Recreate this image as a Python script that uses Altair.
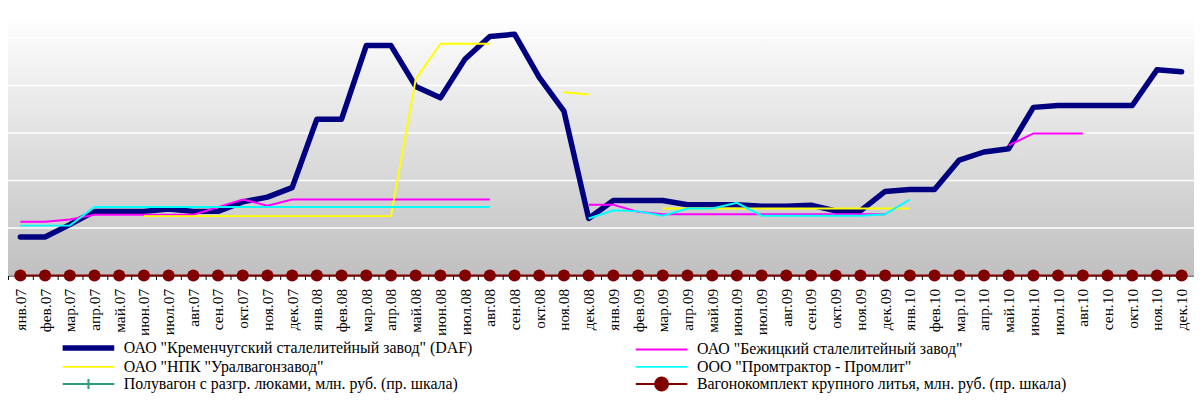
import altair as alt
import pandas as pd

# ---------------- data ----------------
mon = ["янв", "фев", "мар", "апр", "май", "июн", "июл", "авг", "сен", "окт", "ноя", "дек"]
years = ["07", "08", "09", "10"]
months = [f"{m}.{y}" for y in years for m in mon]

S0 = 'ОАО "Кременчугский сталелитейный завод" (DAF)'
S1 = 'ОАО "Бежицкий сталелитейный завод"'
S2 = 'ОАО "НПК "Уралвагонзавод"'
S3 = 'ООО "Промтрактор - Промлит"'
S4 = 'Полувагон с разгр. люками, млн. руб. (пр. шкала)'
S5 = 'Вагонокомплект крупного литья, млн. руб. (пр. шкала)'
# legend order (filled column by column)
names = [S0, S2, S4, S1, S3, S5]
colors = ["#000080", "#ffff00", "#2f9c7d", "#ff00ff", "#00ffff", "#800000"]

N = None
kremen = [8.1, 8.1, 10.7, 13.5, 13.5, 13.5, 14.0, 13.5, 13.5, 15.5, 16.5, 18.5,
          32.9, 32.9, 48.4, 48.4, 39.8, 37.4, 45.6, 50.3, 50.8, 41.7, 34.6, 12.0,
          15.8, 15.8, 15.8, 14.9, 14.9, 14.9, 14.6, 14.6, 14.8, 13.6, 13.6, 17.7,
          18.1, 18.1, 24.3, 26.0, 26.7, 35.4, 35.8, 35.8, 35.8, 35.8, 43.3, 42.9]
bezh = [11.3, 11.3, 11.8, 12.8, 12.8, 12.8, 12.8, 12.8, 14.4, 16.0, 14.7, 16.0,
        16.0, 16.0, 16.0, 16.0, 16.0, 16.0, 16.0, 16.0, N, N, N, 14.9,
        14.9, 13.4, 12.9, 12.9, 12.9, 12.9, 12.9, 12.9, 12.9, 12.9, 12.9, 12.9,
        N, N, N, N, 27.4, 29.9, 29.9, 29.9, N, N, N, N]
uvz = [N, N, N, N, N, 12.5, 12.5, 12.5, 12.5, 12.5, 12.5, 12.5,
       12.5, 12.5, 12.5, 12.5, 41.3, 48.8, 48.8, 48.8, N, N, 38.6, 38.1,
       N, N, 14.1, 14.1, 14.1, 14.1, 14.1, 14.1, 14.1, 14.1, 14.1, 14.1,
       14.1, N, N, N, N, N, N, N, N, N, N, N]
promlit = [10.5, 10.5, 10.5, 14.4, 14.4, 14.4, 14.4, 14.4, 14.4, 14.4, 14.4, 14.4,
           14.4, 14.4, 14.4, 14.4, 14.4, 14.4, 14.4, 14.4, N, N, N, 12.0,
           13.75, 13.5, 12.6, 14.1, 14.1, 15.3, 12.6, 12.6, 12.6, 12.6, 12.6, 12.9,
           16.0, N, N, N, N, N, N, N, N, N, N, N]
poluvagon = [N] * 48
vagonokomplekt = [0] * 48

series = [(S0, kremen), (S1, bezh), (S2, uvz), (S3, promlit), (S4, poluvagon), (S5, vagonokomplekt)]
grid_values = [10, 20, 30, 40, 50]

rows = []
for name, vals in series:
    seg = 0
    for i, (m, v) in enumerate(zip(months, vals)):
        if v is None:
            seg += 1
            continue
        rows.append({"month": m, "series": name, "value": v, "seg": f"{name}|{seg}", "order": i})
df = pd.DataFrame(rows)

# ---------------- chart ----------------
W, H = 1194, 263
YMAX = 55
yscale = alt.Scale(domain=[0, YMAX], nice=False, zero=True)

xenc = alt.X("month:N", sort=months, bandPosition=0.5,
             scale=alt.Scale(type="band", domain=months, paddingInner=0, paddingOuter=0),
             axis=alt.Axis(title=None, labelAngle=270, labelAlign="right", labelBaseline="middle",
                           labelFont="Liberation Serif", labelFontSize=15.5, labelColor="black",
                           labelPadding=9, tickBand="extent", tickSize=4, tickColor="black",
                           domainColor="black", grid=False, labelOverlap=False))
yenc = alt.Y("value:Q", scale=yscale, axis=None)

legend = alt.Legend(
    title=None, orient="none", legendX=73, legendY=328, columns=2, columnPadding=160,
    rowPadding=-1.8,
    symbolType={"expr": "datum.index == 5 ? 'M-6,0L6,0M-1.5,0A1.5,1.5,0,1,0,1.5,0A1.5,1.5,0,1,0,-1.5,0Z' : (datum.index == 2 ? 'M-6,0L6,0M0,-1.15L0,1.15' : 'M-6,0L6,0')"},
    symbolSize=75,
    symbolStrokeWidth={"expr": "datum.index == 0 ? 5.5 : 2"},
    symbolFillColor={"expr": "datum.index == 5 ? '#800000' : 'transparent'"},
    labelFont="Liberation Serif", labelFontSize=16, labelColor="black", labelLimit=700,
    labelOffset=27.6,
)
color = alt.Color("series:N", scale=alt.Scale(domain=names, range=colors), legend=legend)

bg = alt.Chart(pd.DataFrame({"a": [0]})).mark_rect(
    color=alt.LinearGradient(gradient="linear",
                             stops=[alt.GradientStop(color="#ffffff", offset=0),
                                    alt.GradientStop(color="#c0c0c0", offset=1)],
                             x1=0, x2=0, y1=0, y2=1)
).encode(x=alt.value(0), x2=alt.value(W), y=alt.value(0), y2=alt.value(H))

grid = alt.Chart(pd.DataFrame({"g": grid_values})).mark_rule(color="white", strokeWidth=1.3).encode(
    y=alt.Y("g:Q", scale=yscale, axis=None)
)

base = alt.Chart(df).encode(x=xenc, y=yenc, color=color, detail="seg:N", order="order:Q")

navy = base.transform_filter(alt.FieldEqualPredicate(field="series", equal=S0)).mark_line(
    strokeWidth=5.5, strokeJoin="round", strokeCap="round")
others = base.transform_filter(alt.FieldOneOfPredicate(field="series", oneOf=[S1, S2, S3, S5])).mark_line(
    strokeWidth=2)
dots = alt.Chart(df).transform_filter(alt.FieldEqualPredicate(field="series", equal=S5)).mark_circle(
    size=150, opacity=1, color="#800000").encode(x=xenc, y=yenc)

chart = alt.layer(bg, grid, navy, others, dots).properties(
    width=W, height=H,
    autosize=alt.AutoSizeParams(type="none"),
    padding={"left": 0, "top": 5, "right": 0, "bottom": 117}
).configure_view(stroke=None)

chart.save("out.html", embed_options={"renderer": "svg", "actions": False})
